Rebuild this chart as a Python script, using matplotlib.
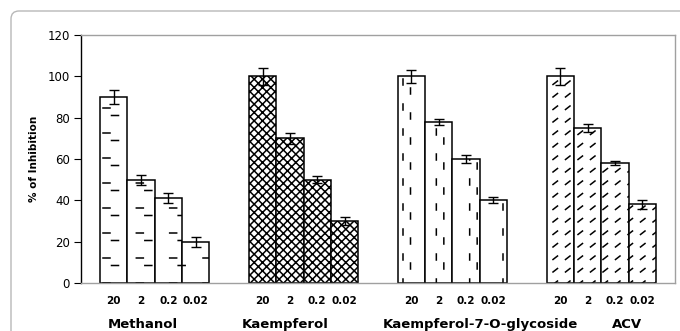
import numpy as np
import matplotlib
matplotlib.use("Agg")
import matplotlib.pyplot as plt
import matplotlib.hatch as mhatch
from matplotlib.path import Path
from matplotlib.patches import FancyBboxPatch

# data
groups = ["Methanol", "Kaempferol", "Kaempferol-7-O-glycoside", "ACV"]
doses = ["20", "2", "0.2", "0.02"]
methanol = [90, 50, 41, 20]
kaempferol = [100, 70, 50, 30]
k7o = [100, 78, 60, 40]
acv = [100, 75, 58, 38]
methanol_err = [3.5, 2.5, 2.5, 2.5]
kaempferol_err = [4, 2.5, 1.8, 2]
k7o_err = [3, 1.5, 2, 1.5]
acv_err = [4, 1.8, 1, 2]

values = [methanol, kaempferol, k7o, acv]
errors = [methanol_err, kaempferol_err, k7o_err, acv_err]


# custom hatch patterns (dashes like the old excel fills)
class SegHatch(mhatch.HatchPatternBase):
    char = None

    def __init__(self, hatch, density):
        self.segs = self.make() if hatch.count(self.char) else []
        self.num_vertices = 2 * len(self.segs)

    def set_vertices_and_codes(self, vertices, codes):
        for k, (p0, p1) in enumerate(self.segs):
            vertices[2 * k] = p0
            vertices[2 * k + 1] = p1
            codes[2 * k] = Path.MOVETO
            codes[2 * k + 1] = Path.LINETO


class HDash(SegHatch):
    char = '-'

    def make(self):
        s = []
        for i in range(3):
            for j in range(4):
                x, y = i / 3 + 0.03, j * 0.25 + 0.17
                s.append(((x, y), (x + 0.07, y)))
                s.append(((x + 0.085, y - 0.075), (x + 0.155, y - 0.075)))
        return s


class VDash(SegHatch):
    char = '|'

    def make(self):
        s = []
        for i in range(3):
            for j in range(4):
                x, y = i / 3 + 0.03, j * 0.25 + 0.15
                s.append(((x, y), (x, y + 0.06)))
                s.append(((x + 0.075, y - 0.09), (x + 0.075, y - 0.03)))
        return s


class DiagDash(SegHatch):
    char = '/'

    def make(self):
        s = []
        for i in range(8):
            for j in range(8):
                x, y = i * 0.125 + 0.03, j * 0.125 + 0.03
                s.append(((x, y), (x + 0.045, y + 0.035)))
        return s


class Cross(SegHatch):
    char = 'x'

    def make(self):
        n = 12
        s = []
        for k in range(-n, n + 1):
            s.append(((k / n, 0), (k / n + 1, 1)))
            s.append(((k / n, 1), (k / n + 1, 0)))
        return s


mhatch._hatch_types[:] = [HDash, VDash, DiagDash, Cross]
plt.rcParams['hatch.linewidth'] = 1.1

hatches = ['-', 'x', '|', '/']
group_start = [0.7, 6.15, 11.6, 17.05]
name_x = [2.27, 7.47, 14.61, 19.99]

fig = plt.figure(figsize=(6.8, 3.31), dpi=100)
ax = fig.add_axes([81 / 680, 48 / 331, 594 / 680, 248 / 331])

tick_pos = []
tick_lab = []
for g in range(4):
    xs = group_start[g] + np.arange(4) + 0.5
    ax.bar(xs, values[g], width=1.0, color='white', edgecolor='black',
           linewidth=1.1, hatch=hatches[g], zorder=2)
    ax.errorbar(xs, values[g], yerr=errors[g], fmt='none', ecolor='black',
                elinewidth=1, capsize=3.5, capthick=1, zorder=3)
    tick_pos += list(xs)
    tick_lab += doses
    ax.annotate(groups[g], xy=(name_x[g], 0), xycoords=('data', 'axes fraction'),
                xytext=(0, -30), textcoords='offset points', ha='center', va='center',
                fontsize=9.5, fontweight='bold')

ax.set_xlim(0, 21.75)
ax.set_ylim(0, 120)
ax.set_yticks(np.arange(0, 121, 20))
ax.set_xticks(tick_pos)
ax.set_xticklabels(tick_lab, fontsize=7.5, fontweight='bold')
ax.tick_params(axis='x', length=0, pad=9)
ax.tick_params(axis='y', direction='out', length=5, width=0.8, labelsize=8.5, pad=3)
ax.set_ylabel('% of Inhibition', fontsize=7.5, fontweight='bold', labelpad=6)

for side in ['top', 'right', 'bottom']:
    ax.spines[side].set_color('#a0a0a0')
    ax.spines[side].set_linewidth(1)
ax.spines['left'].set_color('black')
ax.spines['left'].set_linewidth(1)

# outer rounded frame
frame = FancyBboxPatch((11, -20), 700, 331 - 11 + 20,
                       boxstyle="round,pad=0,rounding_size=8",
                       transform=None, fill=False, ec='#b8b8b8', lw=1)
fig.add_artist(frame)

fig.savefig('out.png', dpi=100)
